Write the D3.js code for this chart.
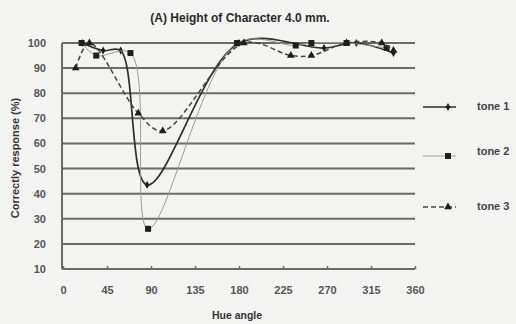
<!DOCTYPE html>
<html>
<head>
<meta charset="utf-8">
<script src="https://cdn.jsdelivr.net/npm/d3@7"></script>
<style>
  body { margin: 0; background: #f3f3f1; }
  svg { display: block; font-family: Arial, "Liberation Sans", sans-serif; }
</style>
</head>
<body>
<svg id="chart" width="516" height="324"></svg>
<script>
// values
const tone1Hue = [20, 41, 59, 86, 180, 267, 300, 338]
const tone1Val = [100, 97, 97, 43.5, 100, 98, 100, 96]
const tone2Hue = [19, 34, 69, 87, 178, 238, 254, 290, 331]
const tone2Val = [100, 95, 96, 26, 100, 99, 100, 100, 98]
const tone3Hue = [13, 27, 77, 102, 185, 233, 254, 290, 326, 338]
const tone3Val = [90, 100, 72, 65, 100, 95, 95, 100, 100, 97]

const xTicks = [0, 45, 90, 135, 180, 225, 270, 315, 360]
const yTicks = [10, 20, 30, 40, 50, 60, 70, 80, 90, 100]
const seriesNames = ['tone 1', 'tone 2', 'tone 3']

const svg = d3.select('#chart')

const x = d3.scaleLinear().domain([0, 360]).range([63, 415])
const y = d3.scaleLinear().domain([10, 100]).range([269, 43])

// title
svg.append('text')
  .attr('x', 240).attr('y', 22)
  .attr('text-anchor', 'middle')
  .attr('font-size', 12).attr('font-weight', 'bold')
  .attr('fill', '#2a2a2a')
  .text('(A) Height of Character 4.0 mm.')

// horizontal grid
svg.append('g')
  .selectAll('line')
  .data(yTicks)
  .join('line')
  .attr('x1', x(0) - 1).attr('x2', x(360))
  .attr('y1', d => y(d)).attr('y2', d => y(d))
  .attr('stroke', '#6a6a6a').attr('stroke-width', 2)

// left axis line
svg.append('line')
  .attr('x1', x(0) - 1).attr('x2', x(0) - 1)
  .attr('y1', y(100)).attr('y2', y(10))
  .attr('stroke', '#6a6a6a').attr('stroke-width', 2)

// y axis labels
const yAxis = d3.axisLeft(y).tickValues(yTicks).tickSize(0).tickPadding(0)
svg.append('g')
  .attr('transform', `translate(46,0)`)
  .call(yAxis)
  .call(g => g.select('.domain').remove())
  .selectAll('text')
  .attr('font-size', 11).attr('font-weight', 'bold')
  .attr('font-family', 'Arial, "Liberation Sans", sans-serif')
  .attr('fill', '#555')

// x axis with small ticks pointing up
const xAxis = d3.axisBottom(x).tickValues(xTicks).tickSizeInner(-3).tickSizeOuter(0).tickPadding(17)
svg.append('g')
  .attr('transform', `translate(0,${y(10)})`)
  .call(xAxis)
  .call(g => g.select('.domain').remove())
  .call(g => g.selectAll('line').attr('stroke', '#6a6a6a').attr('stroke-width', 1.5))
  .selectAll('text')
  .attr('font-size', 11).attr('font-weight', 'bold')
  .attr('font-family', 'Arial, "Liberation Sans", sans-serif')
  .attr('fill', '#555')

// axis titles
svg.append('text')
  .attr('transform', 'translate(19,158) rotate(-90)')
  .attr('text-anchor', 'middle')
  .attr('font-size', 11).attr('font-weight', 'bold')
  .attr('fill', '#333')
  .text('Correctly response (%)')

svg.append('text')
  .attr('x', 237).attr('y', 319)
  .attr('text-anchor', 'middle')
  .attr('font-size', 10.5).attr('font-weight', 'bold')
  .attr('fill', '#333')
  .text('Hue angle')

const series = [
  { name: seriesNames[0], pts: d3.zip(tone1Hue, tone1Val), stroke: '#2e2e2e', width: 1.7, dash: null, mark: d3.symbolDiamond, size: 18 },
  { name: seriesNames[1], pts: d3.zip(tone2Hue, tone2Val), stroke: '#9a9a9a', width: 1, dash: null, mark: d3.symbolSquare, size: 36 },
  { name: seriesNames[2], pts: d3.zip(tone3Hue, tone3Val), stroke: '#444', width: 1.5, dash: '5,3', mark: d3.symbolTriangle, size: 26 }
]

const line = d3.line()
  .x(d => x(d[0]))
  .y(d => y(d[1]))
  .curve(d3.curveCatmullRom.alpha(0.5))

series.forEach(s => {
  svg.append('path')
    .datum(s.pts)
    .attr('d', line)
    .attr('fill', 'none')
    .attr('stroke', s.stroke)
    .attr('stroke-width', s.width)
    .attr('stroke-dasharray', s.dash)

  svg.append('g')
    .selectAll('path')
    .data(s.pts)
    .join('path')
    .attr('transform', d => `translate(${x(d[0])},${y(d[1])})`)
    .attr('d', d3.symbol().type(s.mark).size(s.size))
    .attr('fill', '#1e1e1e')
})

// legend
const legY = [107, 156, 207]
series.forEach((s, i) => {
  const g = svg.append('g').attr('transform', `translate(0,${legY[i]})`)
  g.append('line')
    .attr('x1', 423).attr('x2', 456)
    .attr('stroke', s.stroke).attr('stroke-width', s.width)
    .attr('stroke-dasharray', s.dash)
  g.append('path')
    .attr('transform', 'translate(448,0)')
    .attr('d', d3.symbol().type(s.mark).size(s.size))
    .attr('fill', '#1e1e1e')
  g.append('text')
    .attr('x', 477).attr('y', i == 1 ? -1 : 3)
    .attr('font-size', 11).attr('font-weight', 'bold')
    .attr('fill', '#444')
    .text(s.name)
})
</script>
</body>
</html>
